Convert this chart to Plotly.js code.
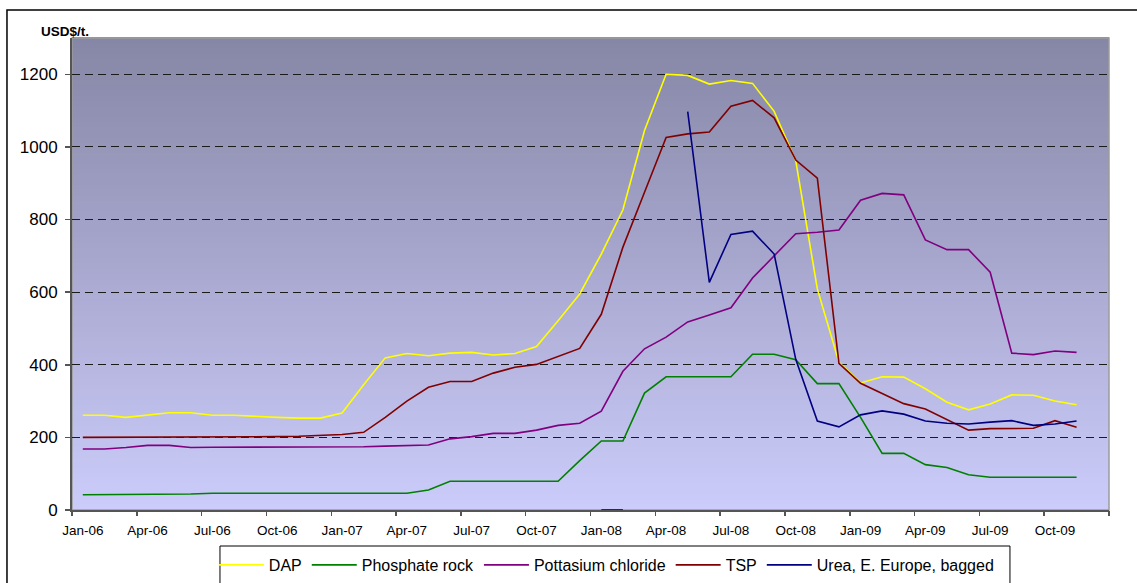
<!DOCTYPE html>
<html>
<head>
<meta charset="utf-8">
<script src="https://cdn.plot.ly/plotly-3.0.1.min.js"></script>
<style>
  html, body { margin: 0; padding: 0; background: #ffffff; }
  #chart { width: 1137px; height: 583px; }
</style>
</head>
<body>
<div id="chart"></div>
<script>
// ---- Data ----
const months = ["Jan-06","Feb-06","Mar-06","Apr-06","May-06","Jun-06","Jul-06","Aug-06","Sep-06","Oct-06","Nov-06","Dec-06",
                "Jan-07","Feb-07","Mar-07","Apr-07","May-07","Jun-07","Jul-07","Aug-07","Sep-07","Oct-07","Nov-07","Dec-07",
                "Jan-08","Feb-08","Mar-08","Apr-08","May-08","Jun-08","Jul-08","Aug-08","Sep-08","Oct-08","Nov-08","Dec-08",
                "Jan-09","Feb-09","Mar-09","Apr-09","May-09","Jun-09","Jul-09","Aug-09","Sep-09","Oct-09","Nov-09","Dec-09"];

const tickLabels = ["Jan-06","Apr-06","Jul-06","Oct-06","Jan-07","Apr-07","Jul-07","Oct-07",
                    "Jan-08","Apr-08","Jul-08","Oct-08","Jan-09","Apr-09","Jul-09","Oct-09"];

const yTicks = [0, 200, 400, 600, 800, 1000, 1200];

const dap = [261,261,255,262,268,268,261,261,257,255,253,253,
             267,345,419,431,425,432,434,427,431,450,521,595,
             705,827,1045,1200,1197,1173,1183,1175,1098,962,609,407,
             350,367,366,334,297,276,292,317,316,300,290];

const phosphateRock = [42,42,42,42,42,44,46,46,46,46,46,46,
                       46,46,46,46,55,79,79,79,79,79,79,136,
                       190,190,322,367,367,367,367,429,429,414,348,348,
                       255,156,156,125,117,97,90,90,90,90,90];

const potassiumChloride = [168,168,172,178,178,172,173,173,173,173,173,173,
                           174,174,176,178,179,196,202,211,211,220,233,239,
                           272,382,444,476,518,537,557,639,700,761,765,771,
                           853,872,868,744,717,717,655,432,428,438,434];

const tsp = [200,200,200,200,200,200,202,202,202,202,203,206,
             208,214,255,300,338,354,354,377,393,401,423,445,
             539,724,875,1026,1036,1041,1112,1128,1080,964,914,404,
             349,320,293,278,248,220,224,225,225,246,228];

const urea = [null,null,null,null,null,null,null,null,null,null,null,null,
              null,null,null,null,null,null,null,null,null,null,null,null,
              0,0,null,null,1097,627,759,768,705,415,245,229,
              262,273,264,245,239,237,242,246,233,237,245];

const seriesNames = ["DAP", "Phosphate rock", "Pottasium chloride", "TSP", "Urea, E. Europe, bagged"];
const seriesData = [dap, phosphateRock, potassiumChloride, tsp, urea];
const seriesColors = ["#FFFF00", "#008000", "#800080", "#800000", "#000080"];

// ---- Traces ----
const traces = seriesNames.map((name, k) => ({
  type: "scatter",
  mode: "lines",
  name: name,
  x: months.slice(0, seriesData[k].length),
  y: seriesData[k],
  connectgaps: false,
  cliponaxis: false,
  line: { color: seriesColors[k], width: 1.6 },
  hoverinfo: "x+y+name"
}));

// helper axis for boundary tick marks (every 3 months, between categories)
const boundaryTicks = [];
for (let i = 0; i <= months.length; i += 3) boundaryTicks.push(i - 0.5);
traces.push({ type: "scatter", mode: "lines", x: [], y: [], xaxis: "x2", yaxis: "y",
              showlegend: false, hoverinfo: "skip" });

// ---- Background gradient (bands) ----
const shapes = [];
const nBands = 90;
const topC = [134, 134, 166], botC = [204, 204, 251];
for (let b = 0; b < nBands; b++) {
  const t = (b + 0.5) / nBands; // 0 bottom -> 1 top
  const c = botC.map((v, j) => Math.round(v + (topC[j] - v) * t));
  shapes.push({
    type: "rect", xref: "x domain", yref: "y domain",
    x0: 0, x1: 1, y0: b / nBands, y1: (b + 1) / nBands + 0.002,
    fillcolor: `rgb(${c[0]},${c[1]},${c[2]})`,
    line: { width: 0 }, layer: "below"
  });
}
// plot area frame (light grey top/right)
shapes.push({
  type: "rect", xref: "x domain", yref: "y domain",
  x0: 0, x1: 1, y0: 0, y1: 1,
  line: { color: "#9c9c9c", width: 1.5 }, fillcolor: "rgba(0,0,0,0)", layer: "below"
});
// outer chart border
shapes.push({
  type: "rect", xref: "paper", yref: "paper",
  x0: -0.0627, x1: 1.2, y0: -0.3, y1: 1.0594,
  line: { color: "#000000", width: 1.5 }, fillcolor: "rgba(0,0,0,0)", layer: "above"
});
// legend frame (extends past the bottom edge like the reference)
shapes.push({
  type: "rect", xref: "paper", yref: "paper",
  x0: 0.1427, x1: 0.9045, y0: -0.25, y1: -0.0763,
  line: { color: "#000000", width: 1 }, fillcolor: "#ffffff", layer: "above"
});

const layout = {
  width: 1137, height: 583,
  margin: { l: 72, r: 28, t: 38, b: 73, autoexpand: false },
  paper_bgcolor: "#ffffff",
  plot_bgcolor: "rgba(0,0,0,0)",
  font: { family: "Liberation Sans, Arial, sans-serif", color: "#000000" },
  showlegend: true,
  xaxis: {
    type: "category",
    categoryorder: "array", categoryarray: months,
    range: [-0.5, months.length - 0.5],
    tickmode: "array", tickvals: tickLabels, ticktext: tickLabels,
    ticks: "", showgrid: false, zeroline: false,
    showline: true, linecolor: "#555555", linewidth: 2,
    tickfont: { size: 13.5, color: "#000000" },
    ticklabelstandoff: 7,
    automargin: false,
    layer: "below traces",
    fixedrange: true
  },
  xaxis2: {
    overlaying: "x", anchor: "y", side: "bottom",
    range: [-0.5, months.length - 0.5],
    tickmode: "array", tickvals: boundaryTicks,
    ticks: "outside", ticklen: 5, tickwidth: 1.5, tickcolor: "#555555",
    showticklabels: false, showgrid: false, zeroline: false, showline: false,
    layer: "below traces",
    fixedrange: true
  },
  yaxis: {
    range: [0, 1300],
    tickmode: "array", tickvals: yTicks, ticktext: yTicks.map(String),
    ticks: "outside", ticklen: 5, tickwidth: 1.5, tickcolor: "#555555",
    showgrid: true, gridcolor: "#1a1a1a", gridwidth: 1, griddash: "8px,5px",
    zeroline: false,
    showline: true, linecolor: "#555555", linewidth: 2,
    tickfont: { size: 17, color: "#000000" },
    ticklabelstandoff: 4,
    automargin: false,
    layer: "below traces",
    fixedrange: true
  },
  legend: {
    orientation: "h",
    x: 0.1368, xanchor: "left",
    y: -0.0805, yanchor: "top",
    bgcolor: "rgba(0,0,0,0)", borderwidth: 0,
    font: { size: 16, color: "#000000" },
    itemwidth: 45
  },
  annotations: [{
    text: "<b>USD$/t.</b>", xref: "paper", yref: "paper",
    x: -0.0318, y: 1.0148, xanchor: "left", yanchor: "middle",
    showarrow: false, font: { size: 13.5, color: "#000000" }
  }],
  shapes: shapes
};

Plotly.newPlot("chart", traces, layout, { displayModeBar: false, staticPlot: true });
</script>
</body>
</html>
